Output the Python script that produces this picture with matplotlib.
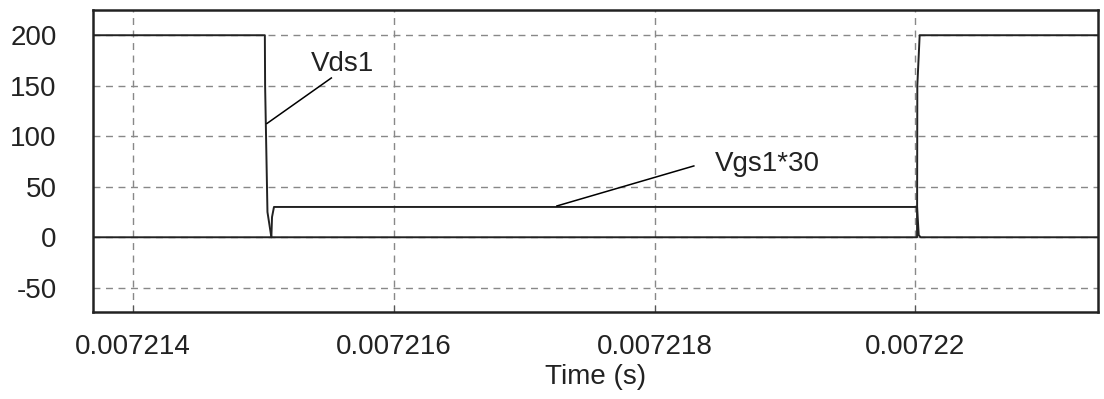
import matplotlib.pyplot as plt
from matplotlib.ticker import FuncFormatter

plt.rcParams['font.family'] = ['Liberation Sans', 'DejaVu Sans']
plt.rcParams['axes.unicode_minus'] = False

# switching waveforms (time in s)
vds_t = [0.00721369, 0.00721501, 0.007215012, 0.00721503, 0.00721506,
         0.007220012, 0.007220014, 0.007220032, 0.0072214]
vds_v = [200, 200, 150, 25, 0, 0, 150, 200, 200]

vgs_t = [0.00721369, 0.00721506, 0.007215065, 0.00721508,
         0.007220012, 0.007220025, 0.00722004, 0.0072214]
vgs_v = [0, 0, 20, 30, 30, 2, 0, 0]

x_ticks = [0.007214, 0.007216, 0.007218, 0.00722]
y_ticks = [-50, 0, 50, 100, 150, 200]

fig = plt.figure(figsize=(11.04, 3.99), dpi=100)
ax = fig.add_axes([0.084, 0.218, 0.9106, 0.757])

ax.plot(vds_t, vds_v, color='#222222', lw=1.4)
ax.plot(vgs_t, vgs_v, color='#222222', lw=1.4)

# labels with leader lines
ax.plot([0.0072150257, 0.00721552], [112.6, 157.7], color='black', lw=1.1)
ax.text(0.00721536, 172, 'Vds1', fontsize=20, color='#222222', va='center', ha='left')
ax.plot([0.00721725, 0.0072183], [31, 70.6], color='black', lw=1.1)
ax.text(0.00721846, 73, 'Vgs1*30', fontsize=20, color='#222222', va='center', ha='left')

ax.set_xlim(0.00721369, 0.0072214)
ax.set_ylim(-74, 225)
ax.set_xticks(x_ticks)
ax.set_yticks(y_ticks)
ax.xaxis.set_major_formatter(FuncFormatter(lambda v, p: '%g' % v))
ax.tick_params(axis='x', direction='in', length=5, width=0.8, color='#555555',
               pad=16, labelsize=20, labelcolor='#222222')
ax.tick_params(axis='y', length=0, pad=26, labelsize=20, labelcolor='#222222')
ax.grid(True, color='#888888', linestyle=(0, (5, 4)), lw=1.0)
for s in ax.spines.values():
    s.set_linewidth(1.8)
    s.set_color('#222222')

ax.set_xlabel('Time (s)', fontsize=20, color='#222222', labelpad=3)

fig.savefig('out.png', dpi=100)
